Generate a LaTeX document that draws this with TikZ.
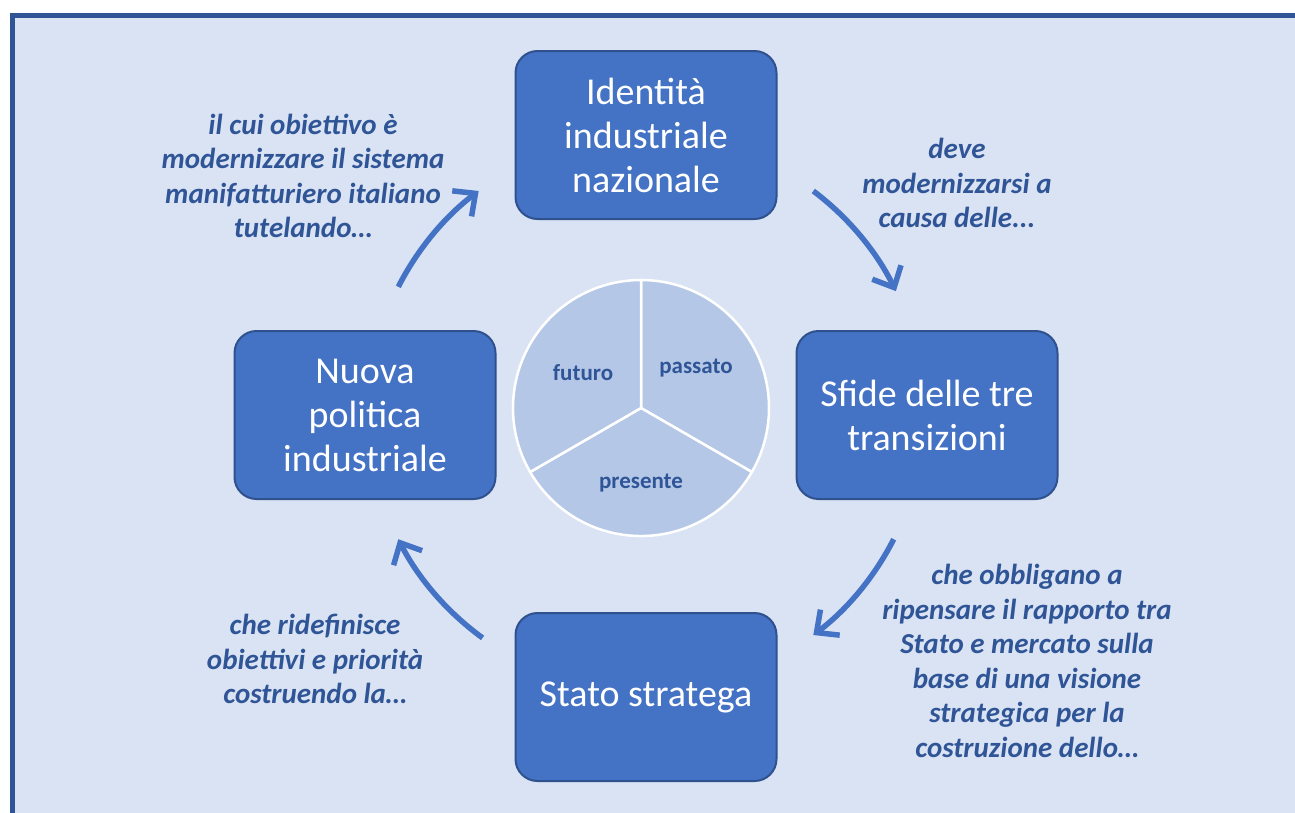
\documentclass[tikz,border=0pt]{standalone}
\usepackage{fontspec}
\setmainfont{Carlito}
\usepackage{tikz}
\usetikzlibrary{arrows.meta,calc}
\definecolor{boxblue}{HTML}{4472C4}
\definecolor{boxedge}{HTML}{2F528F}
\definecolor{textblue}{HTML}{2F5597}
\definecolor{paleblue}{HTML}{DAE3F3}
\definecolor{pieblue}{HTML}{B4C7E7}
\tikzset{
box/.style={rectangle, rounded corners=22pt, fill=boxblue, draw=boxedge, line width=2pt, minimum width=261pt, minimum height=168pt, text=white, align=center, font=\fontsize{38}{44}\selectfont}, % the four big boxes
note/.style={align=center, text=textblue, font=\fontsize{29}{34.5}\selectfont\bfseries\itshape}, % texts along the cycle
slice/.style={fill=pieblue, draw=white, line width=2.5pt},
slicetext/.style={text=textblue, font=\fontsize{23}{26}\selectfont\bfseries},
flow/.style={draw=boxblue, line width=5.5pt, -{Straight Barb[length=17pt,width=32pt]}},
}

\begin{document}
\begin{tikzpicture}[x=1pt,y=1pt,yscale=-1,xscale=1]
\useasboundingbox (0,0) rectangle (1295,812);
\clip (0,0) rectangle (1295,812);
\fill[white] (0,0) rectangle (1295,812);
%Frame
\draw[line width=5pt, draw=textblue, fill=paleblue] (12.5,15) rectangle (1320,840);
%Boxes
\node (idn) at (646,135) [box] {Identità\\industriale\\nazionale};
\node (sfide) at (927,415) [box] {Sfide delle tre\\transizioni};
\node (stato) at (646,697) [box] {Stato stratega};
\node (nuova) at (365,415) [box] {Nuova\\politica\\industriale};
%Pie
\coordinate (pc) at (641,408);
\draw[slice] (pc) -- ++(-90:128) arc[start angle=-90, end angle=30, radius=128] -- cycle;
\draw[slice] (pc) -- ++(30:128) arc[start angle=30, end angle=150, radius=128] -- cycle;
\draw[slice] (pc) -- ++(150:128) arc[start angle=150, end angle=270, radius=128] -- cycle;
\node (passato) at (696,368) [slicetext] {passato};
\node (futuro) at (583,373) [slicetext] {futuro};
\node (presente) at (641,483) [slicetext] {presente};
%Curve Lines
\coordinate (hub) at (646,413);
\coordinate (a1) at ($(hub)+(-153:278)$);
\coordinate (a2) at ($(hub)+(-53:278)$);
\coordinate (a3) at ($(hub)+(27:278)$);
\coordinate (a4) at ($(hub)+(126:278)$);
\draw[flow] (a1) arc[start angle=-153, end angle=-127, radius=278];
\draw[flow] (a2) arc[start angle=-53, end angle=-26, radius=278];
\draw[flow] (a3) arc[start angle=27, end angle=53, radius=278];
\draw[flow] (a4) arc[start angle=126, end angle=153, radius=278];
%Notes
\node (tA) at (303,176) [note] {il cui obiettivo è\\modernizzare il sistema\\manifatturiero italiano\\tutelando…};
\node (tB) at (957,183) [note] {deve\\modernizzarsi a\\causa delle...};
\node (tC) at (1027,661) [note] {che obbligano a\\ripensare il rapporto tra\\Stato e mercato sulla\\base di una visione\\strategica per la\\costruzione dello…};
\node (tD) at (315,659) [note] {che ridefinisce\\obiettivi e priorità\\costruendo la…};
\end{tikzpicture}
\end{document}
